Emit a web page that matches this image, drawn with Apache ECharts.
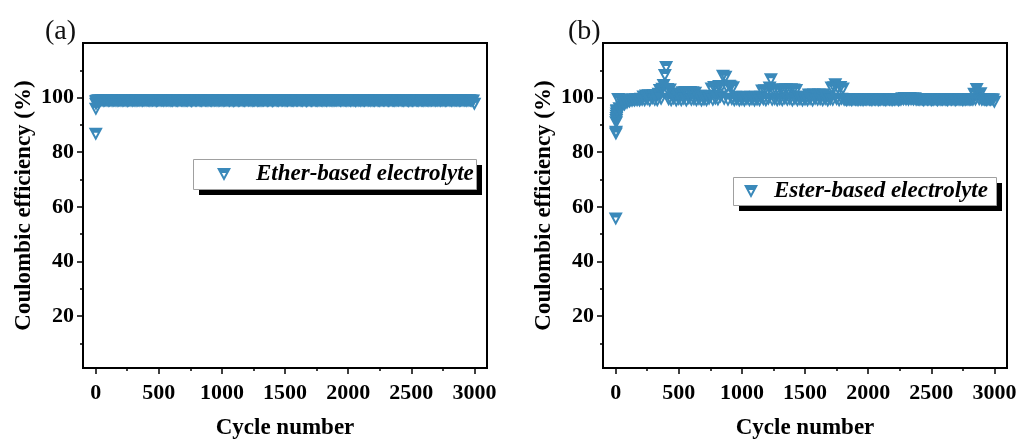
<!DOCTYPE html>
<html>
<head>
<meta charset="utf-8">
<script src="https://cdn.jsdelivr.net/npm/echarts@6/dist/echarts.min.js"></script>
<style>
  html, body { margin: 0; padding: 0; background: #fff; }
  #chart { width: 1019px; height: 441px; }
</style>
</head>
<body>
<div id="chart"></div>
<script>
// Coulombic efficiency vs cycle number, two cells side by side.
const SERIES_NAMES = ['Ether-based electrolyte', 'Ester-based electrolyte'];
const PANEL_TAGS = ['(a)', '(b)'];
const X_TICKS = [0, 500, 1000, 1500, 2000, 2500, 3000];
const X_MINOR_TICKS = [250, 750, 1250, 1750, 2250, 2750];
const Y_TICKS = [20, 40, 60, 80, 100];
const Y_MINOR_TICKS = [10, 30, 50, 70, 90, 110];

// First cycles, recorded individually
const etherFirstCycles = [1, 2, 3, 4, 5];
const etherFirstCE = [86.6, 95.7, 97.6, 98.3, 98.6];
const esterFirstCycles = [1, 2, 3, 4, 5, 6, 7, 8, 9];
const esterFirstCE = [55.6, 86.7, 87.3, 90.8, 91.6, 92.4, 93.2, 94.0, 94.8];

// Readings every 10 cycles, cycle 10 .. 3000 (one row = 100 cycles)
const CYCLE_STEP = 10;
const etherCE = [
  98.7,98.9,98.8,98.8,98.9,98.7,98.8,98.9,98.8,98.7,
  98.8,98.9,98.7,98.8,98.9,98.8,98.7,98.8,98.9,98.8,
  98.7,98.8,98.9,98.8,98.6,98.8,98.9,98.8,98.7,98.9,
  98.8,98.7,98.8,98.9,98.8,98.8,98.7,98.9,98.8,98.8,
  98.9,98.8,98.7,98.8,98.8,98.9,98.8,98.6,98.8,98.9,
  98.8,98.8,98.9,98.7,98.8,98.8,98.9,98.8,98.7,98.8,
  98.7,98.9,98.8,98.8,98.7,98.8,98.9,98.8,98.8,98.7,
  98.8,98.8,98.7,98.9,98.8,98.6,98.8,98.9,98.8,98.8,
  98.9,98.8,98.8,98.7,98.8,98.9,98.8,98.8,98.7,98.9,
  98.8,98.7,98.8,98.8,98.9,98.8,98.7,98.8,98.9,98.8,
  98.7,98.8,98.9,98.8,98.8,98.7,98.9,98.8,98.6,98.8,
  98.9,98.8,98.7,98.8,98.9,98.8,98.8,98.7,98.8,98.9,
  98.8,98.9,98.8,98.7,98.8,98.8,98.9,98.7,98.8,98.8,
  98.7,98.8,98.8,98.9,98.8,98.7,98.8,98.9,98.8,98.6,
  98.8,98.9,98.8,98.8,98.7,98.9,98.8,98.8,98.9,98.7,
  98.8,98.7,98.9,98.8,98.8,98.8,98.7,98.9,98.8,98.8,
  98.9,98.8,98.8,98.7,98.9,98.8,98.6,98.8,98.9,98.8,
  98.7,98.8,98.9,98.8,98.8,98.7,98.8,98.9,98.8,98.7,
  98.8,98.9,98.7,98.8,98.8,98.9,98.8,98.7,98.8,98.9,
  98.8,98.8,98.9,98.7,98.8,98.8,98.9,98.8,98.7,98.8,
  98.9,98.7,98.8,98.8,98.9,98.6,98.8,98.8,98.9,98.7,
  98.8,98.8,98.7,98.9,98.8,98.8,98.9,98.7,98.8,98.8,
  98.7,98.9,98.8,98.8,98.7,98.8,98.9,98.8,98.8,98.9,
  98.8,98.7,98.8,98.9,98.8,98.8,98.7,98.8,98.9,98.8,
  98.9,98.8,98.8,98.7,98.8,98.9,98.8,98.6,98.8,98.8,
  98.7,98.8,98.9,98.8,98.8,98.7,98.9,98.8,98.8,98.7,
  98.8,98.9,98.8,98.7,98.8,98.8,98.9,98.8,98.7,98.9,
  98.8,98.8,98.7,98.9,98.8,98.8,98.7,98.8,98.9,98.8,
  98.9,98.7,98.8,98.8,98.9,98.8,98.8,98.7,98.8,98.9,
  98.8,98.8,98.9,98.7,98.8,98.9,98.8,98.7,98.8,97.6
];
const esterCE = [
  95.2,99.3,95.9,99.0,96.6,98.9,97.3,99.1,97.9,98.8,
  98.4,99.0,98.7,99.1,98.8,99.2,98.9,99.3,98.8,99.4,
  99.0,100.2,98.9,100.6,99.3,100.7,98.8,100.5,99.6,100.7,
  99.0,100.6,98.9,101.2,102.6,99.4,103.1,104.4,108.1,111.0,
  103.0,99.2,102.8,98.9,101.3,99.5,101.1,98.8,100.9,99.3,
  101.2,98.9,101.8,99.4,101.9,98.8,101.7,99.6,101.9,99.0,
  101.8,99.2,101.6,98.9,100.4,99.3,100.5,98.8,100.3,99.1,
  100.5,98.9,100.2,99.4,100.4,103.2,99.0,103.7,99.5,103.5,
  99.1,104.1,100.2,104.0,107.8,99.4,107.5,103.8,99.0,104.2,
  103.9,99.3,103.6,98.9,100.1,99.2,99.9,98.8,100.0,99.1,
  100.1,98.8,99.9,99.3,100.0,98.9,100.1,99.2,99.8,98.8,
  100.1,99.1,100.0,98.9,100.1,102.4,99.2,102.5,98.9,102.3,
  99.4,103.5,106.5,99.0,102.6,99.3,102.4,98.9,102.5,99.2,
  102.9,98.9,102.8,99.5,102.9,99.0,102.7,99.3,102.9,98.8,
  102.8,99.4,102.6,98.9,100.1,99.2,100.0,98.8,100.1,99.1,
  99.9,98.9,101.0,99.3,100.9,98.8,101.0,99.4,100.8,99.0,
  101.0,99.2,100.9,98.9,101.0,99.3,100.0,98.8,99.9,99.2,
  103.5,99.0,103.6,104.7,99.3,103.4,98.9,103.7,99.4,103.2,
  99.0,99.2,98.9,99.1,99.0,99.2,98.9,99.1,99.2,99.0,
  99.1,98.9,99.2,99.0,99.1,98.9,99.2,99.1,99.0,99.2,
  99.0,99.1,98.9,99.2,99.1,99.0,99.2,98.9,99.1,99.0,
  99.2,99.0,99.1,98.9,99.1,99.2,99.0,99.1,98.9,99.2,
  99.0,99.1,99.2,98.9,99.1,99.0,99.6,99.2,99.7,99.1,
  99.6,99.0,99.7,99.2,99.5,99.1,99.6,99.0,99.2,99.1,
  99.0,99.2,99.1,98.9,99.1,99.2,99.0,99.1,99.2,98.9,
  99.1,99.0,99.2,99.1,98.9,99.2,99.0,99.1,99.0,99.2,
  99.0,99.1,98.9,99.2,99.1,99.0,99.2,99.1,98.9,99.1,
  99.2,99.0,99.1,99.2,98.9,99.1,99.0,99.2,99.1,99.0,
  99.1,99.2,99.0,101.2,99.1,103.0,101.0,99.2,101.4,99.0,
  99.2,99.0,99.1,98.9,99.2,99.1,99.0,99.2,99.1,98.3
];

const BLUE = '#3A89BA';
const FONT = 'Liberation Serif, Times New Roman, serif';
// Down triangle, upper part filled, lower part open
const MARKER = 'path://M0 0L14 0L7 13Z M4.96 5L7 8.78L9.04 5Z';

function toPoints(firstCycles, firstCE, ce) {
  const pts = firstCycles.map((c, i) => [c, firstCE[i]]);
  ce.forEach((v, i) => pts.push([(i + 1) * CYCLE_STEP, v]));
  return pts;
}

const panels = [
  { left: 83, data: toPoints(etherFirstCycles, etherFirstCE, etherCE),
    legendLeft: 193, legendTop: 159, legendW: 283, legendH: 30,
    legendPad: [4, 4, 4, 24], textGap: 19, tagLeft: 45 },
  { left: 603, data: toPoints(esterFirstCycles, esterFirstCE, esterCE),
    legendLeft: 733, legendTop: 177, legendW: 263, legendH: 28,
    legendPad: [3, 5, 3, 11], textGap: 10, tagLeft: 568 }
];

const tickFont = { fontFamily: FONT, fontWeight: 'bold', fontSize: 22, color: '#000' };
const nameFont = { fontFamily: FONT, fontWeight: 'bold', fontSize: 23, color: '#000' };
const plainNumber = v => String(v);
const SHADOW = 6;

// Legend frames: black drop shadow, then white box with a grey outline
const legendFrames = [];
panels.forEach(p => {
  legendFrames.push({
    type: 'rect', z: 3, silent: true,
    shape: { x: p.legendLeft + SHADOW, y: p.legendTop + SHADOW, width: p.legendW, height: p.legendH },
    style: { fill: '#000' }
  });
  legendFrames.push({
    type: 'rect', z: 4, silent: true,
    shape: { x: p.legendLeft + 0.5, y: p.legendTop + 0.5, width: p.legendW, height: p.legendH },
    style: { fill: '#fff', stroke: '#a0a0a0', lineWidth: 1 }
  });
});

const option = {
  animation: false,
  backgroundColor: '#fff',
  title: panels.map((p, i) => ({
    text: PANEL_TAGS[i], left: p.tagLeft, top: 18, padding: 0,
    textStyle: { fontFamily: FONT, fontWeight: 'normal', fontSize: 28, color: '#111' }
  })),
  grid: panels.map(p => ({
    left: p.left, top: 43, width: 404, height: 325,
    outerBoundsMode: 'none', containLabel: false,
    show: true, borderColor: '#000', borderWidth: 2, backgroundColor: 'transparent'
  })),
  graphic: { elements: legendFrames },
  legend: panels.map((p, i) => ({
    data: [SERIES_NAMES[i]],
    left: p.legendLeft, top: p.legendTop, z: 10,
    orient: 'horizontal',
    icon: MARKER,
    itemWidth: 16, itemHeight: 13,
    padding: p.legendPad,
    selectedMode: false,
    textStyle: { fontFamily: FONT, fontWeight: 'bold', fontStyle: 'italic', fontSize: 23, color: '#000',
                 lineHeight: 22, padding: [0, 0, 0, p.textGap] }
  })),
  xAxis: [],
  yAxis: [],
  series: []
};

panels.forEach((p, i) => {
  option.xAxis.push({
    type: 'value', gridIndex: i, min: -100, max: 3100,
    axisLine: { show: true, onZero: false, lineStyle: { color: '#000', width: 2 } },
    axisTick: { show: true, customValues: X_TICKS, length: 6, lineStyle: { color: '#000', width: 1.5 } },
    axisLabel: Object.assign({ customValues: X_TICKS, margin: 14, formatter: plainNumber }, tickFont),
    splitLine: { show: false },
    name: 'Cycle number', nameLocation: 'middle', nameGap: 49,
    nameTextStyle: nameFont
  });
  option.xAxis.push({
    type: 'value', gridIndex: i, min: -100, max: 3100, position: 'bottom', offset: 0,
    axisLine: { show: false, onZero: false },
    axisTick: { show: true, customValues: X_MINOR_TICKS, length: 3, lineStyle: { color: '#000', width: 1.5 } },
    axisLabel: { show: false },
    splitLine: { show: false }
  });
  option.yAxis.push({
    type: 'value', gridIndex: i, min: 1, max: 120,
    axisLine: { show: true, onZero: false, lineStyle: { color: '#000', width: 2 } },
    axisTick: { show: true, customValues: Y_TICKS, length: 6, lineStyle: { color: '#000', width: 1.5 } },
    axisLabel: Object.assign({ customValues: Y_TICKS, margin: 9, formatter: plainNumber }, tickFont),
    splitLine: { show: false },
    name: 'Coulombic efficiency (%)', nameLocation: 'middle', nameGap: 47,
    nameTextStyle: nameFont
  });
  option.yAxis.push({
    type: 'value', gridIndex: i, min: 1, max: 120, position: 'left', offset: 0,
    axisLine: { show: false, onZero: false },
    axisTick: { show: true, customValues: Y_MINOR_TICKS, length: 3, lineStyle: { color: '#000', width: 1.5 } },
    axisLabel: { show: false },
    splitLine: { show: false }
  });
  option.series.push({
    name: SERIES_NAMES[i],
    type: 'scatter',
    xAxisIndex: i * 2, yAxisIndex: i * 2,
    symbol: MARKER,
    symbolSize: [14, 13],
    itemStyle: { color: BLUE, opacity: 1 },
    silent: true,
    data: p.data
  });
});

const chart = echarts.init(document.getElementById('chart'), null, { renderer: 'canvas' });
chart.setOption(option);
</script>
</body>
</html>
